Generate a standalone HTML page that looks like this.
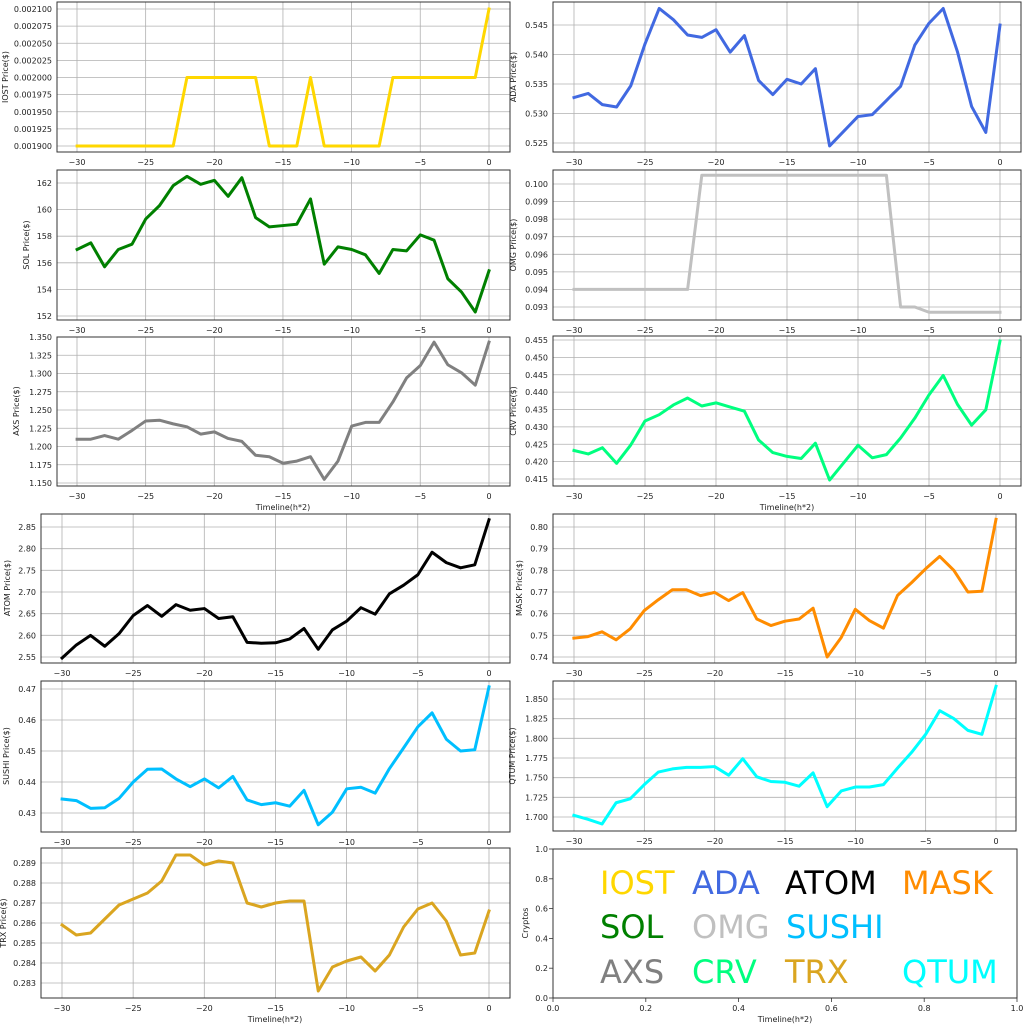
<!DOCTYPE html>
<html><head><meta charset="utf-8"><style>
body{margin:0;background:#fff}
svg{display:block;font-family:"DejaVu Sans","Liberation Sans",sans-serif}
.g{stroke:#b0b0b0;stroke-width:0.8}
.f{fill:none;stroke:#333;stroke-width:1}
.t{font-size:8px;fill:#222}
.yl text{text-anchor:end}
.xl text{text-anchor:middle}
.d{fill:none;stroke-width:3;stroke-linejoin:round;stroke-linecap:square}
.d polyline{vector-effect:non-scaling-stroke}
.lab{font-size:8px;fill:#222;text-anchor:middle}
.lg{font-size:32px}
</style></head><body>
<svg width="1024" height="1024" viewBox="0 0 1024 1024" xmlns="http://www.w3.org/2000/svg">
<rect width="1024" height="1024" fill="#fff"/>

<!-- ============ IOST ============ -->
<g>
<g class="g">
<line x1="77" y1="2" x2="77" y2="152"/><line x1="145.65" y1="2" x2="145.65" y2="152"/><line x1="214.3" y1="2" x2="214.3" y2="152"/><line x1="282.95" y1="2" x2="282.95" y2="152"/><line x1="351.6" y1="2" x2="351.6" y2="152"/><line x1="420.25" y1="2" x2="420.25" y2="152"/><line x1="489" y1="2" x2="489" y2="152"/>
<line x1="57" y1="146" x2="510" y2="146"/><line x1="57" y1="128.9" x2="510" y2="128.9"/><line x1="57" y1="111.75" x2="510" y2="111.75"/><line x1="57" y1="94.6" x2="510" y2="94.6"/><line x1="57" y1="77.5" x2="510" y2="77.5"/><line x1="57" y1="60.4" x2="510" y2="60.4"/><line x1="57" y1="43.25" x2="510" y2="43.25"/><line x1="57" y1="26.1" x2="510" y2="26.1"/><line x1="57" y1="9" x2="510" y2="9"/>
</g>
<g class="d" stroke="#ffd700" transform="matrix(13.73,0,0,-685000,489,1447.5)"><polyline points="-30,0.0019 -23,0.0019 -22,0.002 -17,0.002 -16,0.0019 -14,0.0019 -13,0.002 -12,0.0019 -8,0.0019 -7,0.002 -1,0.002 0,0.0021"/></g>
<rect class="f" x="57" y="2" width="453" height="150"/>
<g class="t yl"><text x="52" y="149">0.001900</text><text x="52" y="131.9">0.001925</text><text x="52" y="114.75">0.001950</text><text x="52" y="97.6">0.001975</text><text x="52" y="80.5">0.002000</text><text x="52" y="63.4">0.002025</text><text x="52" y="46.25">0.002050</text><text x="52" y="29.1">0.002075</text><text x="52" y="12">0.002100</text></g>
<g class="t xl"><text x="77" y="165">−30</text><text x="145.65" y="165">−25</text><text x="214.3" y="165">−20</text><text x="282.95" y="165">−15</text><text x="351.6" y="165">−10</text><text x="420.25" y="165">−5</text><text x="489" y="165">0</text></g>
<text class="lab" transform="translate(8,77) rotate(-90)">IOST Price($)</text>
</g>

<!-- ============ SOL ============ -->
<g>
<g class="g">
<line x1="77" y1="170" x2="77" y2="320"/><line x1="145.65" y1="170" x2="145.65" y2="320"/><line x1="214.3" y1="170" x2="214.3" y2="320"/><line x1="282.95" y1="170" x2="282.95" y2="320"/><line x1="351.6" y1="170" x2="351.6" y2="320"/><line x1="420.25" y1="170" x2="420.25" y2="320"/><line x1="489" y1="170" x2="489" y2="320"/>
<line x1="57" y1="316" x2="510" y2="316"/><line x1="57" y1="289.4" x2="510" y2="289.4"/><line x1="57" y1="262.8" x2="510" y2="262.8"/><line x1="57" y1="236.2" x2="510" y2="236.2"/><line x1="57" y1="209.6" x2="510" y2="209.6"/><line x1="57" y1="183" x2="510" y2="183"/>
</g>
<g class="d" stroke="#008000" transform="matrix(13.73,0,0,-13.3,489,2337.6)"><polyline points="-30,157 -29,157.5 -28,155.7 -27,157 -26,157.4 -25,159.3 -24,160.3 -23,161.8 -22,162.5 -21,161.9 -20,162.2 -19,161 -18,162.4 -17,159.4 -16,158.7 -15,158.8 -14,158.9 -13,160.8 -12,155.9 -11,157.2 -10,157 -9,156.6 -8,155.2 -7,157 -6,156.9 -5,158.1 -4,157.7 -3,154.8 -2,153.8 -1,152.3 0,155.4"/></g>
<rect class="f" x="57" y="170" width="453" height="150"/>
<g class="t yl"><text x="52" y="319">152</text><text x="52" y="292.4">154</text><text x="52" y="265.8">156</text><text x="52" y="239.2">158</text><text x="52" y="212.6">160</text><text x="52" y="186">162</text></g>
<g class="t xl"><text x="77" y="333">−30</text><text x="145.65" y="333">−25</text><text x="214.3" y="333">−20</text><text x="282.95" y="333">−15</text><text x="351.6" y="333">−10</text><text x="420.25" y="333">−5</text><text x="489" y="333">0</text></g>
<text class="lab" transform="translate(29,245) rotate(-90)">SOL Price($)</text>
</g>

<!-- ============ AXS ============ -->
<g>
<g class="g">
<line x1="77" y1="337" x2="77" y2="486"/><line x1="145.65" y1="337" x2="145.65" y2="486"/><line x1="214.3" y1="337" x2="214.3" y2="486"/><line x1="282.95" y1="337" x2="282.95" y2="486"/><line x1="351.6" y1="337" x2="351.6" y2="486"/><line x1="420.25" y1="337" x2="420.25" y2="486"/><line x1="489" y1="337" x2="489" y2="486"/>
<line x1="57" y1="483" x2="510" y2="483"/><line x1="57" y1="464.75" x2="510" y2="464.75"/><line x1="57" y1="446.5" x2="510" y2="446.5"/><line x1="57" y1="428.25" x2="510" y2="428.25"/><line x1="57" y1="410" x2="510" y2="410"/><line x1="57" y1="391.75" x2="510" y2="391.75"/><line x1="57" y1="373.5" x2="510" y2="373.5"/><line x1="57" y1="355.25" x2="510" y2="355.25"/><line x1="57" y1="337" x2="510" y2="337"/>
</g>
<g class="d" stroke="#808080" transform="matrix(13.73,0,0,-730,489,1322.5)"><polyline points="-30,1.21 -29,1.21 -28,1.215 -27,1.21 -26,1.222 -25,1.235 -24,1.236 -23,1.231 -22,1.227 -21,1.217 -20,1.22 -19,1.211 -18,1.207 -17,1.188 -16,1.186 -15,1.177 -14,1.18 -13,1.186 -12,1.155 -11,1.18 -10,1.228 -9,1.233 -8,1.233 -7,1.261 -6,1.294 -5,1.311 -4,1.343 -3,1.312 -2,1.301 -1,1.284 0,1.343"/></g>
<rect class="f" x="57" y="337" width="453" height="149"/>
<g class="t yl"><text x="52" y="486">1.150</text><text x="52" y="467.75">1.175</text><text x="52" y="449.5">1.200</text><text x="52" y="431.25">1.225</text><text x="52" y="413">1.250</text><text x="52" y="394.75">1.275</text><text x="52" y="376.5">1.300</text><text x="52" y="358.25">1.325</text><text x="52" y="340">1.350</text></g>
<g class="t xl"><text x="77" y="499">−30</text><text x="145.65" y="499">−25</text><text x="214.3" y="499">−20</text><text x="282.95" y="499">−15</text><text x="351.6" y="499">−10</text><text x="420.25" y="499">−5</text><text x="489" y="499">0</text></g>
<text class="lab" x="283" y="510">Timeline(h*2)</text>
<text class="lab" transform="translate(19,411) rotate(-90)">AXS Price($)</text>
</g>

<!-- ============ ADA ============ -->
<g>
<g class="g">
<line x1="574" y1="2" x2="574" y2="152"/><line x1="645" y1="2" x2="645" y2="152"/><line x1="716" y1="2" x2="716" y2="152"/><line x1="787" y1="2" x2="787" y2="152"/><line x1="858" y1="2" x2="858" y2="152"/><line x1="929" y1="2" x2="929" y2="152"/><line x1="1000" y1="2" x2="1000" y2="152"/>
<line x1="553" y1="143" x2="1021" y2="143"/><line x1="553" y1="113.5" x2="1021" y2="113.5"/><line x1="553" y1="84" x2="1021" y2="84"/><line x1="553" y1="54.5" x2="1021" y2="54.5"/><line x1="553" y1="25" x2="1021" y2="25"/>
</g>
<g class="d" stroke="#4169e1" transform="matrix(14.2,0,0,-5900,1000,3240.5)"><polyline points="-30,0.5327 -29,0.5334 -28,0.5315 -27,0.5311 -26,0.5347 -25,0.5418 -24,0.5478 -23,0.5459 -22,0.5433 -21,0.5429 -20,0.5442 -19,0.5404 -18,0.5432 -17,0.5356 -16,0.5332 -15,0.5358 -14,0.535 -13,0.5376 -12,0.5245 -11,0.527 -10,0.5295 -9,0.5298 -8,0.5322 -7,0.5346 -6,0.5416 -5,0.5453 -4,0.5478 -3,0.5405 -2,0.5312 -1,0.5268 0,0.545"/></g>
<rect class="f" x="553" y="2" width="468" height="150"/>
<g class="t yl"><text x="548" y="146">0.525</text><text x="548" y="116.5">0.530</text><text x="548" y="87">0.535</text><text x="548" y="57.5">0.540</text><text x="548" y="28">0.545</text></g>
<g class="t xl"><text x="574" y="165">−30</text><text x="645" y="165">−25</text><text x="716" y="165">−20</text><text x="787" y="165">−15</text><text x="858" y="165">−10</text><text x="929" y="165">−5</text><text x="1000" y="165">0</text></g>
<text class="lab" transform="translate(516,77) rotate(-90)">ADA  Price($)</text>
</g>

<!-- ============ OMG ============ -->
<g>
<g class="g">
<line x1="574" y1="170" x2="574" y2="320"/><line x1="645" y1="170" x2="645" y2="320"/><line x1="716" y1="170" x2="716" y2="320"/><line x1="787" y1="170" x2="787" y2="320"/><line x1="858" y1="170" x2="858" y2="320"/><line x1="929" y1="170" x2="929" y2="320"/><line x1="1000" y1="170" x2="1000" y2="320"/>
<line x1="553" y1="307" x2="1021" y2="307"/><line x1="553" y1="289.4" x2="1021" y2="289.4"/><line x1="553" y1="271.9" x2="1021" y2="271.9"/><line x1="553" y1="254.3" x2="1021" y2="254.3"/><line x1="553" y1="236.7" x2="1021" y2="236.7"/><line x1="553" y1="219.1" x2="1021" y2="219.1"/><line x1="553" y1="201.6" x2="1021" y2="201.6"/><line x1="553" y1="184" x2="1021" y2="184"/>
</g>
<g class="d" stroke="#c0c0c0" transform="matrix(14.2,0,0,-17571,1000,1941.1)"><polyline points="-30,0.094 -22,0.094 -21,0.1005 -8,0.1005 -7,0.093 -6,0.093 -5,0.0927 0,0.0927"/></g>
<rect class="f" x="553" y="170" width="468" height="150"/>
<g class="t yl"><text x="548" y="310">0.093</text><text x="548" y="292.4">0.094</text><text x="548" y="274.9">0.095</text><text x="548" y="257.3">0.096</text><text x="548" y="239.7">0.097</text><text x="548" y="222.1">0.098</text><text x="548" y="204.6">0.099</text><text x="548" y="187">0.100</text></g>
<g class="t xl"><text x="574" y="333">−30</text><text x="645" y="333">−25</text><text x="716" y="333">−20</text><text x="787" y="333">−15</text><text x="858" y="333">−10</text><text x="929" y="333">−5</text><text x="1000" y="333">0</text></g>
<text class="lab" transform="translate(516,245) rotate(-90)">OMG  Price($)</text>
</g>

<!-- ============ CRV ============ -->
<g>
<g class="g">
<line x1="574" y1="336" x2="574" y2="486"/><line x1="645" y1="336" x2="645" y2="486"/><line x1="716" y1="336" x2="716" y2="486"/><line x1="787" y1="336" x2="787" y2="486"/><line x1="858" y1="336" x2="858" y2="486"/><line x1="929" y1="336" x2="929" y2="486"/><line x1="1000" y1="336" x2="1000" y2="486"/>
<line x1="553" y1="479" x2="1021" y2="479"/><line x1="553" y1="461.6" x2="1021" y2="461.6"/><line x1="553" y1="444.25" x2="1021" y2="444.25"/><line x1="553" y1="426.9" x2="1021" y2="426.9"/><line x1="553" y1="409.5" x2="1021" y2="409.5"/><line x1="553" y1="392.1" x2="1021" y2="392.1"/><line x1="553" y1="374.75" x2="1021" y2="374.75"/><line x1="553" y1="357.4" x2="1021" y2="357.4"/><line x1="553" y1="340" x2="1021" y2="340"/>
</g>
<g class="d" stroke="#00ff7f" transform="matrix(14.2,0,0,-3475,1000,1921.1)"><polyline points="-30,0.4232 -29,0.4222 -28,0.424 -27,0.4195 -26,0.4248 -25,0.4317 -24,0.4335 -23,0.4363 -22,0.4383 -21,0.436 -20,0.4369 -19,0.4357 -18,0.4345 -17,0.4262 -16,0.4226 -15,0.4215 -14,0.4209 -13,0.4253 -12,0.4147 -11,0.4197 -10,0.4247 -9,0.4211 -8,0.422 -7,0.4268 -6,0.4325 -5,0.4392 -4,0.4448 -3,0.4365 -2,0.4305 -1,0.4349 0,0.4547"/></g>
<rect class="f" x="553" y="336" width="468" height="150"/>
<g class="t yl"><text x="548" y="482">0.415</text><text x="548" y="464.6">0.420</text><text x="548" y="447.25">0.425</text><text x="548" y="429.9">0.430</text><text x="548" y="412.5">0.435</text><text x="548" y="395.1">0.440</text><text x="548" y="377.75">0.445</text><text x="548" y="360.4">0.450</text><text x="548" y="343">0.455</text></g>
<g class="t xl"><text x="574" y="499">−30</text><text x="645" y="499">−25</text><text x="716" y="499">−20</text><text x="787" y="499">−15</text><text x="858" y="499">−10</text><text x="929" y="499">−5</text><text x="1000" y="499">0</text></g>
<text class="lab" x="787" y="510">Timeline(h*2)</text>
<text class="lab" transform="translate(516,411) rotate(-90)">CRV  Price($)</text>
</g>

<!-- ============ ATOM ============ -->
<g>
<g class="g">
<line x1="62" y1="514" x2="62" y2="663"/><line x1="133.15" y1="514" x2="133.15" y2="663"/><line x1="204.3" y1="514" x2="204.3" y2="663"/><line x1="275.45" y1="514" x2="275.45" y2="663"/><line x1="346.6" y1="514" x2="346.6" y2="663"/><line x1="417.75" y1="514" x2="417.75" y2="663"/><line x1="489" y1="514" x2="489" y2="663"/>
<line x1="41" y1="657" x2="510" y2="657"/><line x1="41" y1="635.3" x2="510" y2="635.3"/><line x1="41" y1="613.7" x2="510" y2="613.7"/><line x1="41" y1="592" x2="510" y2="592"/><line x1="41" y1="570.3" x2="510" y2="570.3"/><line x1="41" y1="548.7" x2="510" y2="548.7"/><line x1="41" y1="527" x2="510" y2="527"/>
</g>
<g class="d" stroke="#000" transform="matrix(14.23,0,0,-433.3,489,1762)"><polyline points="-30,2.548 -29,2.578 -28,2.6 -27,2.575 -26,2.604 -25,2.646 -24,2.669 -23,2.644 -22,2.671 -21,2.658 -20,2.662 -19,2.639 -18,2.643 -17,2.584 -16,2.582 -15,2.583 -14,2.592 -13,2.616 -12,2.568 -11,2.613 -10,2.633 -9,2.664 -8,2.649 -7,2.696 -6,2.716 -5,2.74 -4,2.792 -3,2.768 -2,2.756 -1,2.763 0,2.867"/></g>
<rect class="f" x="41" y="514" width="469" height="149"/>
<g class="t yl"><text x="36" y="660">2.55</text><text x="36" y="638.3">2.60</text><text x="36" y="616.7">2.65</text><text x="36" y="595">2.70</text><text x="36" y="573.3">2.75</text><text x="36" y="551.7">2.80</text><text x="36" y="530">2.85</text></g>
<g class="t xl"><text x="62" y="676">−30</text><text x="133.15" y="676">−25</text><text x="204.3" y="676">−20</text><text x="275.45" y="676">−15</text><text x="346.6" y="676">−10</text><text x="417.75" y="676">−5</text><text x="489" y="676">0</text></g>
<text class="lab" transform="translate(10,588) rotate(-90)">ATOM  Price($)</text>
</g>

<!-- ============ SUSHI ============ -->
<g>
<g class="g">
<line x1="62" y1="681" x2="62" y2="832"/><line x1="133.15" y1="681" x2="133.15" y2="832"/><line x1="204.3" y1="681" x2="204.3" y2="832"/><line x1="275.45" y1="681" x2="275.45" y2="832"/><line x1="346.6" y1="681" x2="346.6" y2="832"/><line x1="417.75" y1="681" x2="417.75" y2="832"/><line x1="489" y1="681" x2="489" y2="832"/>
<line x1="41" y1="813" x2="510" y2="813"/><line x1="41" y1="782" x2="510" y2="782"/><line x1="41" y1="751" x2="510" y2="751"/><line x1="41" y1="720" x2="510" y2="720"/><line x1="41" y1="689" x2="510" y2="689"/>
</g>
<g class="d" stroke="#00bfff" transform="matrix(14.23,0,0,-3100,489,2146)"><polyline points="-30,0.4345 -29,0.434 -28,0.4315 -27,0.4317 -26,0.4347 -25,0.44 -24,0.4441 -23,0.4442 -22,0.441 -21,0.4385 -20,0.441 -19,0.4381 -18,0.4418 -17,0.4342 -16,0.4327 -15,0.4333 -14,0.4322 -13,0.4373 -12,0.4262 -11,0.4303 -10,0.4378 -9,0.4383 -8,0.4364 -7,0.4443 -6,0.451 -5,0.4578 -4,0.4623 -3,0.4538 -2,0.45 -1,0.4504 0,0.4707"/></g>
<rect class="f" x="41" y="681" width="469" height="151"/>
<g class="t yl"><text x="36" y="816">0.43</text><text x="36" y="785">0.44</text><text x="36" y="754">0.45</text><text x="36" y="723">0.46</text><text x="36" y="692">0.47</text></g>
<g class="t xl"><text x="62" y="845">−30</text><text x="133.15" y="845">−25</text><text x="204.3" y="845">−20</text><text x="275.45" y="845">−15</text><text x="346.6" y="845">−10</text><text x="417.75" y="845">−5</text><text x="489" y="845">0</text></g>
<text class="lab" transform="translate(9,756) rotate(-90)">SUSHI  Price($)</text>
</g>

<!-- ============ TRX ============ -->
<g>
<g class="g">
<line x1="62" y1="848" x2="62" y2="998"/><line x1="133.15" y1="848" x2="133.15" y2="998"/><line x1="204.3" y1="848" x2="204.3" y2="998"/><line x1="275.45" y1="848" x2="275.45" y2="998"/><line x1="346.6" y1="848" x2="346.6" y2="998"/><line x1="417.75" y1="848" x2="417.75" y2="998"/><line x1="489" y1="848" x2="489" y2="998"/>
<line x1="41" y1="983" x2="510" y2="983"/><line x1="41" y1="963" x2="510" y2="963"/><line x1="41" y1="943" x2="510" y2="943"/><line x1="41" y1="923" x2="510" y2="923"/><line x1="41" y1="903" x2="510" y2="903"/><line x1="41" y1="883" x2="510" y2="883"/><line x1="41" y1="863" x2="510" y2="863"/>
</g>
<g class="d" stroke="#daa520" transform="matrix(14.23,0,0,-20000,489,6643)"><polyline points="-30,0.2859 -29,0.2854 -28,0.2855 -27,0.2862 -26,0.2869 -25,0.2872 -24,0.2875 -23,0.2881 -22,0.2894 -21,0.2894 -20,0.2889 -19,0.2891 -18,0.289 -17,0.287 -16,0.2868 -15,0.287 -14,0.2871 -13,0.2871 -12,0.2826 -11,0.2838 -10,0.2841 -9,0.2843 -8,0.2836 -7,0.2844 -6,0.2858 -5,0.2867 -4,0.287 -3,0.2861 -2,0.2844 -1,0.2845 0,0.2866"/></g>
<rect class="f" x="41" y="848" width="469" height="150"/>
<g class="t yl"><text x="36" y="986">0.283</text><text x="36" y="966">0.284</text><text x="36" y="946">0.285</text><text x="36" y="926">0.286</text><text x="36" y="906">0.287</text><text x="36" y="886">0.288</text><text x="36" y="866">0.289</text></g>
<g class="t xl"><text x="62" y="1011">−30</text><text x="133.15" y="1011">−25</text><text x="204.3" y="1011">−20</text><text x="275.45" y="1011">−15</text><text x="346.6" y="1011">−10</text><text x="417.75" y="1011">−5</text><text x="489" y="1011">0</text></g>
<text class="lab" x="275" y="1022">Timeline(h*2)</text>
<text class="lab" transform="translate(6,923) rotate(-90)">TRX Price($)</text>
</g>

<!-- ============ MASK ============ -->
<g>
<g class="g">
<line x1="574" y1="514" x2="574" y2="663"/><line x1="644.35" y1="514" x2="644.35" y2="663"/><line x1="714.7" y1="514" x2="714.7" y2="663"/><line x1="785" y1="514" x2="785" y2="663"/><line x1="855.4" y1="514" x2="855.4" y2="663"/><line x1="925.65" y1="514" x2="925.65" y2="663"/><line x1="996" y1="514" x2="996" y2="663"/>
<line x1="553" y1="657" x2="1016" y2="657"/><line x1="553" y1="635.3" x2="1016" y2="635.3"/><line x1="553" y1="613.7" x2="1016" y2="613.7"/><line x1="553" y1="592" x2="1016" y2="592"/><line x1="553" y1="570.3" x2="1016" y2="570.3"/><line x1="553" y1="548.7" x2="1016" y2="548.7"/><line x1="553" y1="527" x2="1016" y2="527"/>
</g>
<g class="d" stroke="#ff8c00" transform="matrix(14.07,0,0,-2166.7,996,2260.3)"><polyline points="-30,0.7487 -29,0.7494 -28,0.7516 -27,0.7479 -26,0.753 -25,0.7614 -24,0.7664 -23,0.771 -22,0.771 -21,0.7683 -20,0.7698 -19,0.766 -18,0.7697 -17,0.7575 -16,0.7545 -15,0.7565 -14,0.7575 -13,0.7625 -12,0.74 -11,0.749 -10,0.762 -9,0.7568 -8,0.7533 -7,0.7684 -6,0.7743 -5,0.7807 -4,0.7864 -3,0.78 -2,0.77 -1,0.7703 0,0.8035"/></g>
<rect class="f" x="553" y="514" width="463" height="149"/>
<g class="t yl"><text x="548" y="660">0.74</text><text x="548" y="638.3">0.75</text><text x="548" y="616.7">0.76</text><text x="548" y="595">0.77</text><text x="548" y="573.3">0.78</text><text x="548" y="551.7">0.79</text><text x="548" y="530">0.80</text></g>
<g class="t xl"><text x="574" y="676">−30</text><text x="644.35" y="676">−25</text><text x="714.7" y="676">−20</text><text x="785" y="676">−15</text><text x="855.4" y="676">−10</text><text x="925.65" y="676">−5</text><text x="996" y="676">0</text></g>
<text class="lab" transform="translate(522,588) rotate(-90)">MASK  Price($)</text>
</g>

<!-- ============ QTUM ============ -->
<g>
<g class="g">
<line x1="574" y1="681" x2="574" y2="831"/><line x1="644.35" y1="681" x2="644.35" y2="831"/><line x1="714.7" y1="681" x2="714.7" y2="831"/><line x1="785" y1="681" x2="785" y2="831"/><line x1="855.4" y1="681" x2="855.4" y2="831"/><line x1="925.65" y1="681" x2="925.65" y2="831"/><line x1="996" y1="681" x2="996" y2="831"/>
<line x1="553" y1="817" x2="1016" y2="817"/><line x1="553" y1="797.3" x2="1016" y2="797.3"/><line x1="553" y1="777.7" x2="1016" y2="777.7"/><line x1="553" y1="758" x2="1016" y2="758"/><line x1="553" y1="738.3" x2="1016" y2="738.3"/><line x1="553" y1="718.7" x2="1016" y2="718.7"/><line x1="553" y1="699" x2="1016" y2="699"/>
</g>
<g class="d" stroke="#00ffff" transform="matrix(14.07,0,0,-786.7,996,2154.3)"><polyline points="-30,1.702 -29,1.697 -28,1.691 -27,1.718 -26,1.723 -25,1.741 -24,1.757 -23,1.761 -22,1.763 -21,1.763 -20,1.764 -19,1.753 -18,1.774 -17,1.751 -16,1.745 -15,1.744 -14,1.739 -13,1.756 -12,1.713 -11,1.733 -10,1.738 -9,1.738 -8,1.741 -7,1.762 -6,1.782 -5,1.805 -4,1.835 -3,1.825 -2,1.81 -1,1.805 0,1.866"/></g>
<rect class="f" x="553" y="681" width="463" height="150"/>
<g class="t yl"><text x="548" y="820">1.700</text><text x="548" y="800.3">1.725</text><text x="548" y="780.7">1.750</text><text x="548" y="761">1.775</text><text x="548" y="741.3">1.800</text><text x="548" y="721.7">1.825</text><text x="548" y="702">1.850</text></g>
<g class="t xl"><text x="574" y="844">−30</text><text x="644.35" y="844">−25</text><text x="714.7" y="844">−20</text><text x="785" y="844">−15</text><text x="855.4" y="844">−10</text><text x="925.65" y="844">−5</text><text x="996" y="844">0</text></g>
<text class="lab" transform="translate(515,756) rotate(-90)">QTUM Price($)</text>
</g>

<!-- ============ Legend panel ============ -->
<g>
<rect class="f" x="553" y="849" width="464" height="149"/>
<g class="t yl"><text x="548" y="1001">0.0</text><text x="548" y="971.2">0.2</text><text x="548" y="941.4">0.4</text><text x="548" y="911.6">0.6</text><text x="548" y="881.8">0.8</text><text x="548" y="852">1.0</text></g>
<g stroke="#333" stroke-width="0.8"><line x1="549" y1="998" x2="553" y2="998"/><line x1="549" y1="968.2" x2="553" y2="968.2"/><line x1="549" y1="938.4" x2="553" y2="938.4"/><line x1="549" y1="908.6" x2="553" y2="908.6"/><line x1="549" y1="878.8" x2="553" y2="878.8"/><line x1="549" y1="849" x2="553" y2="849"/>
<line x1="553" y1="998" x2="553" y2="1002"/><line x1="645.8" y1="998" x2="645.8" y2="1002"/><line x1="738.6" y1="998" x2="738.6" y2="1002"/><line x1="831.4" y1="998" x2="831.4" y2="1002"/><line x1="924.2" y1="998" x2="924.2" y2="1002"/><line x1="1017" y1="998" x2="1017" y2="1002"/></g>
<g class="t xl"><text x="553" y="1011">0.0</text><text x="645.8" y="1011">0.2</text><text x="738.6" y="1011">0.4</text><text x="831.4" y="1011">0.6</text><text x="924.2" y="1011">0.8</text><text x="1017" y="1011">1.0</text></g>
<text class="lab" x="785" y="1022">Timeline(h*2)</text>
<text class="lab" transform="translate(528,923) rotate(-90)">Cryptos</text>
<g class="lg">
<text x="600" y="894" fill="#ffd700">IOST</text><text x="692" y="894" fill="#4169e1">ADA</text><text x="785" y="894" fill="#000">ATOM</text><text x="902" y="894" fill="#ff8c00">MASK</text>
<text x="600" y="938" fill="#008000">SOL</text><text x="692" y="938" fill="#c0c0c0">OMG</text><text x="786" y="938" fill="#00bfff">SUSHI</text>
<text x="600" y="983" fill="#808080">AXS</text><text x="692" y="983" fill="#00ff7f">CRV</text><text x="785" y="983" fill="#daa520">TRX</text><text x="902" y="983" fill="#00ffff">QTUM</text>
</g>
</g>
</svg>
</body></html>
